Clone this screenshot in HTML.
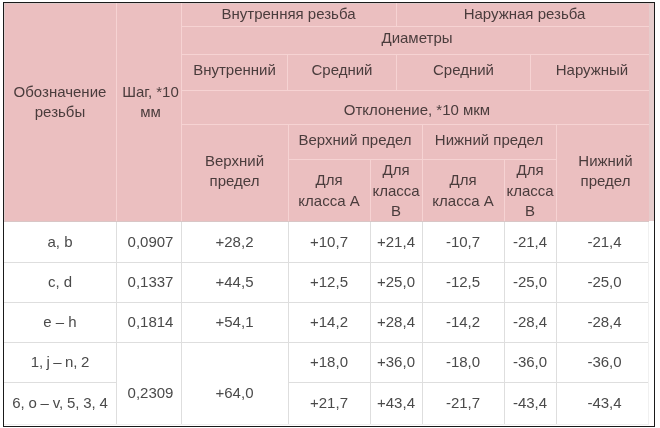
<!DOCTYPE html>
<html><head><meta charset="utf-8"><style>
html,body{margin:0;padding:0;background:#fff;}
body{width:660px;height:428px;position:relative;overflow:hidden;font-family:"Liberation Sans",sans-serif;font-size:15px;color:#4a4a4a;}
div,p{position:absolute;margin:0;}
p{text-align:center;white-space:nowrap;will-change:transform;}
.frame{left:3px;top:2px;width:652px;height:425px;box-sizing:border-box;border:1px solid #1a1a1a;background:#fff;}
</style></head><body>
<div class="frame"></div>
<div style="left:4px;top:3px;width:645px;height:218px;background:#ebbfc0"></div>
<div style="left:649px;top:3px;width:5px;height:218px;background:#e6cccc"></div>
<div style="left:4px;top:3px;width:1px;height:218px;background:#e2cccc"></div>
<div style="left:4px;top:3px;width:649px;height:1px;background:#dec8c8"></div>
<div style="left:181px;top:26px;width:468px;height:1px;background:#f6d3d3"></div>
<div style="left:181px;top:54px;width:468px;height:1px;background:#f6d3d3"></div>
<div style="left:181px;top:90px;width:468px;height:1px;background:#f6d3d3"></div>
<div style="left:181px;top:124px;width:468px;height:1px;background:#f6d3d3"></div>
<div style="left:288px;top:159px;width:268px;height:1px;background:#f6d3d3"></div>
<div style="left:116px;top:3px;width:1px;height:218px;background:#f6d3d3"></div>
<div style="left:181px;top:3px;width:1px;height:218px;background:#f6d3d3"></div>
<div style="left:396px;top:3px;width:1px;height:23px;background:#f6d3d3"></div>
<div style="left:287px;top:54px;width:1px;height:36px;background:#f6d3d3"></div>
<div style="left:396px;top:54px;width:1px;height:36px;background:#f6d3d3"></div>
<div style="left:530px;top:54px;width:1px;height:36px;background:#f6d3d3"></div>
<div style="left:288px;top:124px;width:1px;height:97px;background:#f6d3d3"></div>
<div style="left:422px;top:124px;width:1px;height:97px;background:#f6d3d3"></div>
<div style="left:556px;top:124px;width:1px;height:97px;background:#f6d3d3"></div>
<div style="left:370px;top:159px;width:1px;height:62px;background:#f6d3d3"></div>
<div style="left:504px;top:159px;width:1px;height:62px;background:#f6d3d3"></div>
<div style="left:4px;top:221px;width:645px;height:1px;background:#d9c6c6"></div>
<div style="left:4px;top:262px;width:645px;height:1px;background:#dedede"></div>
<div style="left:4px;top:302px;width:645px;height:1px;background:#dedede"></div>
<div style="left:4px;top:342px;width:645px;height:1px;background:#dedede"></div>
<div style="left:4px;top:382px;width:112px;height:1px;background:#dedede"></div>
<div style="left:288px;top:382px;width:361px;height:1px;background:#dedede"></div>
<div style="left:4px;top:424px;width:645px;height:1px;background:#f0f0f0"></div>
<div style="left:116px;top:222px;width:1px;height:202px;background:#dedede"></div>
<div style="left:181px;top:222px;width:1px;height:202px;background:#dedede"></div>
<div style="left:288px;top:222px;width:1px;height:202px;background:#dedede"></div>
<div style="left:370px;top:222px;width:1px;height:202px;background:#dedede"></div>
<div style="left:422px;top:222px;width:1px;height:202px;background:#dedede"></div>
<div style="left:504px;top:222px;width:1px;height:202px;background:#dedede"></div>
<div style="left:556px;top:222px;width:1px;height:202px;background:#dedede"></div>
<div style="left:648px;top:222px;width:1px;height:202px;background:#f0f0f0"></div>
<p style="left:4px;top:82.30px;width:112px;line-height:20px;color:#4a3c3c;">Обозначение<br>резьбы</p>
<p style="left:118px;top:81.50px;width:65px;line-height:19.5px;color:#4a3c3c;">Шаг, *10<br>мм</p>
<p style="left:181px;top:4.25px;width:215px;line-height:20.5px;color:#4a3c3c;">Внутренняя резьба</p>
<p style="left:396px;top:4.25px;width:257px;line-height:20.5px;color:#4a3c3c;">Наружная резьба</p>
<p style="left:181px;top:28.25px;width:472px;line-height:20.5px;color:#4a3c3c;">Диаметры</p>
<p style="left:181px;top:60.25px;width:107px;line-height:20.5px;color:#4a3c3c;">Внутренний</p>
<p style="left:288px;top:60.25px;width:108px;line-height:20.5px;color:#4a3c3c;">Средний</p>
<p style="left:396px;top:60.25px;width:135px;line-height:20.5px;color:#4a3c3c;">Средний</p>
<p style="left:531px;top:60.25px;width:122px;line-height:20.5px;color:#4a3c3c;">Наружный</p>
<p style="left:181px;top:99.75px;width:472px;line-height:20.5px;color:#4a3c3c;">Отклонение, *10 мкм</p>
<p style="left:181px;top:151.00px;width:107px;line-height:20px;color:#4a3c3c;">Верхний<br>предел</p>
<p style="left:288px;top:130.25px;width:134px;line-height:20.5px;color:#4a3c3c;">Верхний предел</p>
<p style="left:422px;top:130.25px;width:134px;line-height:20.5px;color:#4a3c3c;">Нижний предел</p>
<p style="left:557px;top:151.00px;width:97px;line-height:19.5px;color:#4a3c3c;">Нижний<br>предел</p>
<p style="left:288px;top:169.50px;width:82px;line-height:20.5px;color:#4a3c3c;">Для<br>класса А</p>
<p style="left:370px;top:159.75px;width:52px;line-height:20.5px;color:#4a3c3c;">Для<br>класса<br>В</p>
<p style="left:422px;top:169.50px;width:82px;line-height:20.5px;color:#4a3c3c;">Для<br>класса А</p>
<p style="left:504px;top:159.75px;width:52px;line-height:20.5px;color:#4a3c3c;">Для<br>класса<br>В</p>
<p style="left:4px;top:231.75px;width:112px;line-height:20.5px;">a, b</p>
<p style="left:118px;top:231.75px;width:65px;line-height:20.5px;">0,0907</p>
<p style="left:181px;top:231.75px;width:107px;line-height:20.5px;">+28,2</p>
<p style="left:288px;top:231.75px;width:82px;line-height:20.5px;">+10,7</p>
<p style="left:370px;top:231.75px;width:52px;line-height:20.5px;">+21,4</p>
<p style="left:422px;top:231.75px;width:82px;line-height:20.5px;">-10,7</p>
<p style="left:504px;top:231.75px;width:52px;line-height:20.5px;">-21,4</p>
<p style="left:556px;top:231.75px;width:97px;line-height:20.5px;">-21,4</p>
<p style="left:4px;top:271.75px;width:112px;line-height:20.5px;">c, d</p>
<p style="left:118px;top:271.75px;width:65px;line-height:20.5px;">0,1337</p>
<p style="left:181px;top:271.75px;width:107px;line-height:20.5px;">+44,5</p>
<p style="left:288px;top:271.75px;width:82px;line-height:20.5px;">+12,5</p>
<p style="left:370px;top:271.75px;width:52px;line-height:20.5px;">+25,0</p>
<p style="left:422px;top:271.75px;width:82px;line-height:20.5px;">-12,5</p>
<p style="left:504px;top:271.75px;width:52px;line-height:20.5px;">-25,0</p>
<p style="left:556px;top:271.75px;width:97px;line-height:20.5px;">-25,0</p>
<p style="left:4px;top:311.75px;width:112px;line-height:20.5px;">e – h</p>
<p style="left:118px;top:311.75px;width:65px;line-height:20.5px;">0,1814</p>
<p style="left:181px;top:311.75px;width:107px;line-height:20.5px;">+54,1</p>
<p style="left:288px;top:311.75px;width:82px;line-height:20.5px;">+14,2</p>
<p style="left:370px;top:311.75px;width:52px;line-height:20.5px;">+28,4</p>
<p style="left:422px;top:311.75px;width:82px;line-height:20.5px;">-14,2</p>
<p style="left:504px;top:311.75px;width:52px;line-height:20.5px;">-28,4</p>
<p style="left:556px;top:311.75px;width:97px;line-height:20.5px;">-28,4</p>
<p style="left:4px;top:351.75px;width:112px;line-height:20.5px;word-spacing:-0.8px">1, j – n, 2</p>
<p style="left:288px;top:351.75px;width:82px;line-height:20.5px;">+18,0</p>
<p style="left:370px;top:351.75px;width:52px;line-height:20.5px;">+36,0</p>
<p style="left:422px;top:351.75px;width:82px;line-height:20.5px;">-18,0</p>
<p style="left:504px;top:351.75px;width:52px;line-height:20.5px;">-36,0</p>
<p style="left:556px;top:351.75px;width:97px;line-height:20.5px;">-36,0</p>
<p style="left:4px;top:393.25px;width:112px;line-height:20.5px;word-spacing:-0.4px">6, o – v, 5, 3, 4</p>
<p style="left:288px;top:393.25px;width:82px;line-height:20.5px;">+21,7</p>
<p style="left:370px;top:393.25px;width:52px;line-height:20.5px;">+43,4</p>
<p style="left:422px;top:393.25px;width:82px;line-height:20.5px;">-21,7</p>
<p style="left:504px;top:393.25px;width:52px;line-height:20.5px;">-43,4</p>
<p style="left:556px;top:393.25px;width:97px;line-height:20.5px;">-43,4</p>
<p style="left:118px;top:382.75px;width:65px;line-height:20.5px;">0,2309</p>
<p style="left:181px;top:382.75px;width:107px;line-height:20.5px;">+64,0</p>
</body></html>
